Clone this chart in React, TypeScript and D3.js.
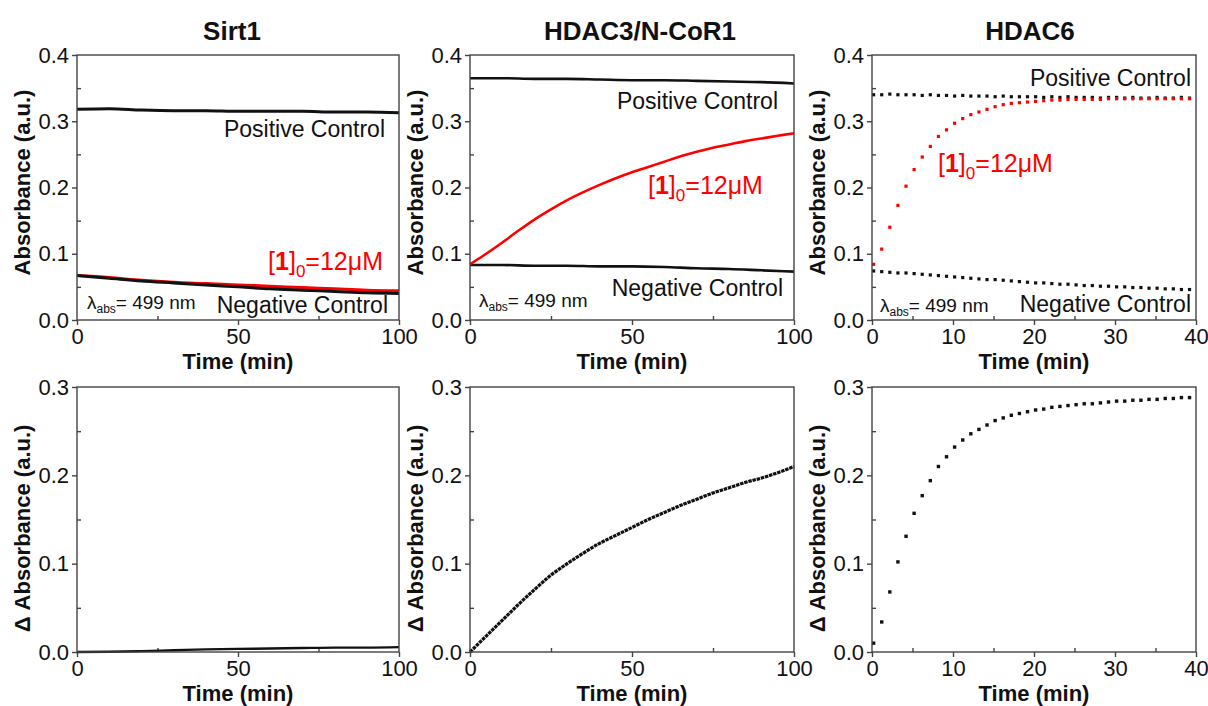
import React, { useEffect, useRef } from 'react';
import * as d3 from 'd3';

const FONT = '"Liberation Sans", Arial, sans-serif';
const RED = 'rgb(255, 0, 0)';
const INK = '#111';
const FRAME = '#444';

// ---- data ----
const minutes10 = [0, 10, 20, 30, 40, 50, 60, 70, 80, 90, 100];
const minutes5 = [0, 5, 10, 15, 20, 25, 30, 35, 40, 45, 50, 55, 60, 65, 70, 75, 80, 85, 90, 95, 100];

// Sirt1
const sirtPositive = [0.318, 0.319, 0.317, 0.316, 0.316, 0.315, 0.315, 0.315, 0.314, 0.314, 0.313];
const sirtNegative = [0.067, 0.063, 0.059, 0.056, 0.053, 0.050, 0.047, 0.045, 0.043, 0.041, 0.040];
const sirtTreated = [0.067, 0.064, 0.060, 0.057, 0.055, 0.053, 0.051, 0.049, 0.047, 0.045, 0.044];
const sirtDelta = [0.000, 0.0003, 0.001, 0.002, 0.003, 0.0035, 0.004, 0.0045, 0.005, 0.005, 0.0055];

// HDAC3/N-CoR1
const hdac3Positive = [0.365, 0.365, 0.364, 0.364, 0.363, 0.362, 0.362, 0.361, 0.360, 0.359, 0.357];
const hdac3Negative = [0.083, 0.083, 0.082, 0.082, 0.081, 0.081, 0.080, 0.078, 0.077, 0.075, 0.073];
const hdac3Treated = [0.084, 0.100, 0.117, 0.135, 0.152, 0.167, 0.181, 0.193, 0.204, 0.214, 0.223,
  0.231, 0.239, 0.247, 0.254, 0.260, 0.265, 0.270, 0.274, 0.278, 0.282];
const hdac3Delta = [0.000, 0.018, 0.036, 0.054, 0.071, 0.087, 0.100, 0.112, 0.123, 0.132, 0.141,
  0.150, 0.158, 0.166, 0.173, 0.180, 0.186, 0.192, 0.197, 0.203, 0.210];

// HDAC6 (one reading per minute)
const hdac6Time = [0.2, 1.2, 2.2, 3.2, 4.2, 5.2, 6.2, 7.2, 8.2, 9.2, 10.2, 11.2, 12.2, 13.2, 14.2, 15.2, 16.2, 17.2, 18.2, 19.2,
  20.2, 21.2, 22.2, 23.2, 24.2, 25.2, 26.2, 27.2, 28.2, 29.2, 30.2, 31.2, 32.2, 33.2, 34.2, 35.2, 36.2, 37.2, 38.2, 39.2];
const hdac6Positive = [0.340, 0.340, 0.341, 0.340, 0.340, 0.340, 0.339, 0.340, 0.339, 0.339, 0.338, 0.339, 0.338, 0.338, 0.338, 0.337, 0.338, 0.337, 0.337, 0.337,
  0.337, 0.336, 0.337, 0.336, 0.337, 0.336, 0.336, 0.336, 0.335, 0.336, 0.336, 0.335, 0.336, 0.335, 0.335, 0.336, 0.335, 0.335, 0.336, 0.335];
const hdac6Negative = [0.074, 0.073, 0.072, 0.071, 0.071, 0.070, 0.069, 0.068, 0.067, 0.066, 0.065, 0.064, 0.063, 0.062, 0.061, 0.061, 0.060, 0.059, 0.058, 0.057,
  0.056, 0.056, 0.055, 0.054, 0.054, 0.053, 0.052, 0.052, 0.051, 0.051, 0.050, 0.050, 0.049, 0.049, 0.048, 0.048, 0.047, 0.047, 0.046, 0.046];
const hdac6Treated = [0.084, 0.107, 0.140, 0.173, 0.202, 0.227, 0.246, 0.262, 0.277, 0.287, 0.297, 0.304, 0.310, 0.314, 0.318, 0.322, 0.325, 0.327, 0.328, 0.329,
  0.330, 0.331, 0.332, 0.332, 0.333, 0.333, 0.333, 0.333, 0.333, 0.334, 0.334, 0.334, 0.334, 0.334, 0.334, 0.334, 0.334, 0.334, 0.334, 0.334];
const hdac6Delta = [0.010, 0.034, 0.068, 0.102, 0.131, 0.157, 0.177, 0.194, 0.210, 0.221, 0.232, 0.240, 0.247, 0.252, 0.257, 0.262, 0.265, 0.268, 0.270, 0.272,
  0.274, 0.275, 0.277, 0.278, 0.279, 0.280, 0.281, 0.281, 0.282, 0.283, 0.284, 0.284, 0.285, 0.285, 0.286, 0.286, 0.287, 0.287, 0.288, 0.288];

const titles = ['Sirt1', 'HDAC3/N-CoR1', 'HDAC6'];

// ---- layout ----
const colLeft = [77, 470, 872];
const colWidth = [322, 324, 324];
const rowTop = [55, 387];
const rowHeight = [265, 265];
const titleShift = [-6, 8, -4];

type Series = { t: number[]; v: number[]; color: string; kind: 'line' | 'dots' | 'dense'; w: number };
type Note = { kind: 'text' | 'red' | 'lambda'; text?: string; x: number; y: number; anchor: string };

const topNotes: Note[][] = [
  [
    { kind: 'text', text: 'Positive Control', x: 308, y: 82, anchor: 'end' },
    { kind: 'red', x: 306, y: 215, anchor: 'end' },
    { kind: 'lambda', x: 10, y: 254, anchor: 'start' },
    { kind: 'text', text: 'Negative Control', x: 311, y: 258, anchor: 'end' },
  ],
  [
    { kind: 'text', text: 'Positive Control', x: 308, y: 54, anchor: 'end' },
    { kind: 'red', x: 178, y: 139, anchor: 'start' },
    { kind: 'lambda', x: 9, y: 252, anchor: 'start' },
    { kind: 'text', text: 'Negative Control', x: 313, y: 241, anchor: 'end' },
  ],
  [
    { kind: 'text', text: 'Positive Control', x: 319, y: 31, anchor: 'end' },
    { kind: 'red', x: 66, y: 117, anchor: 'start' },
    { kind: 'lambda', x: 8, y: 257, anchor: 'start' },
    { kind: 'text', text: 'Negative Control', x: 319, y: 257, anchor: 'end' },
  ],
];

const panels = [
  // top row
  {
    col: 0, row: 0, xMax: 100, yMax: 0.4, notes: topNotes[0], yTitle: 'Absorbance (a.u.)',
    series: [
      { t: minutes10, v: sirtPositive, color: INK, kind: 'line', w: 3 },
      { t: minutes10, v: sirtTreated, color: RED, kind: 'line', w: 3 },
      { t: minutes10, v: sirtNegative, color: INK, kind: 'line', w: 3 },
    ] as Series[],
  },
  {
    col: 1, row: 0, xMax: 100, yMax: 0.4, notes: topNotes[1], yTitle: 'Absorbance (a.u.)',
    series: [
      { t: minutes10, v: hdac3Positive, color: INK, kind: 'line', w: 2.6 },
      { t: minutes10, v: hdac3Negative, color: INK, kind: 'line', w: 2.6 },
      { t: minutes5, v: hdac3Treated, color: RED, kind: 'line', w: 2.6 },
    ] as Series[],
  },
  {
    col: 2, row: 0, xMax: 40, yMax: 0.4, notes: topNotes[2], yTitle: 'Absorbance (a.u.)',
    series: [
      { t: hdac6Time, v: hdac6Positive, color: INK, kind: 'dots', w: 3.2 },
      { t: hdac6Time, v: hdac6Negative, color: INK, kind: 'dots', w: 3.2 },
      { t: hdac6Time, v: hdac6Treated, color: RED, kind: 'dots', w: 3.2 },
    ] as Series[],
  },
  // bottom row
  {
    col: 0, row: 1, xMax: 100, yMax: 0.3, notes: [], yTitle: '\u0394 Absorbance (a.u.)',
    series: [{ t: minutes10, v: sirtDelta, color: INK, kind: 'line', w: 2.4 }] as Series[],
  },
  {
    col: 1, row: 1, xMax: 100, yMax: 0.3, notes: [], yTitle: '\u0394 Absorbance (a.u.)',
    series: [{ t: minutes5, v: hdac3Delta, color: INK, kind: 'dense', w: 3.2 }] as Series[],
  },
  {
    col: 2, row: 1, xMax: 40, yMax: 0.3, notes: [], yTitle: '\u0394 Absorbance (a.u.)',
    series: [{ t: hdac6Time, v: hdac6Delta, color: INK, kind: 'dots', w: 3.4 }] as Series[],
  },
];

function redLabel(g: any, n: Note) {
  const t = g.append('text').attr('x', n.x).attr('y', n.y).attr('text-anchor', n.anchor)
    .attr('fill', RED).attr('font-size', 25).attr('font-family', FONT);
  t.append('tspan').text('[');
  t.append('tspan').attr('font-weight', 'bold').text('1');
  t.append('tspan').text(']');
  t.append('tspan').attr('font-size', 17).attr('dy', 7).text('0');
  t.append('tspan').attr('dy', -7).text('=12\u03bcM');
}

function lambdaLabel(g: any, n: Note) {
  const t = g.append('text').attr('x', n.x).attr('y', n.y).attr('text-anchor', n.anchor)
    .attr('fill', INK).attr('font-size', 19).attr('font-family', FONT);
  t.append('tspan').text('\u03bb');
  t.append('tspan').attr('font-size', 12).attr('dy', 4).text('abs');
  t.append('tspan').attr('dy', -4).text('= 499 nm');
}

function drawPanel(svg: any, p: typeof panels[number]) {
  const left = colLeft[p.col];
  const top = rowTop[p.row];
  const width = colWidth[p.col];
  const height = rowHeight[p.row];

  const x = d3.scaleLinear().domain([0, p.xMax]).range([0, width]);
  const y = d3.scaleLinear().domain([0, p.yMax]).range([height, 0]);

  const g = svg.append('g').attr('transform', `translate(${left},${top})`);

  const xStep = p.xMax === 100 ? 50 : 10;
  const xMajor = d3.range(0, p.xMax + 0.001, xStep);
  const xMinor = d3.range(xStep / 2, p.xMax, xStep);
  const yMajor = d3.range(0, p.yMax + 0.0001, 0.1);
  const yMinor = d3.range(0.05, p.yMax, 0.1);

  const styleAxis = (a: any, labels: boolean) => {
    a.select('.domain').remove();
    a.selectAll('line').attr('stroke', FRAME).attr('stroke-width', 1.4);
    if (labels) a.selectAll('text').attr('font-size', 22).attr('font-family', FONT).attr('fill', INK);
  };

  // major ticks point outward, minor ticks inward
  g.append('g').attr('transform', `translate(0,${height})`)
    .call(d3.axisBottom(x).tickValues(xMajor).tickSize(5).tickPadding(3).tickFormat(d3.format('d')))
    .call((a: any) => styleAxis(a, true));
  g.append('g').attr('transform', `translate(0,${height})`)
    .call(d3.axisBottom(x).tickValues(xMinor).tickSize(-4).tickFormat(() => ''))
    .call((a: any) => styleAxis(a, false));
  g.append('g')
    .call(d3.axisLeft(y).tickValues(yMajor).tickSize(5).tickPadding(3).tickFormat(d3.format('.1f')))
    .call((a: any) => styleAxis(a, true));
  g.append('g')
    .call(d3.axisLeft(y).tickValues(yMinor).tickSize(-4).tickFormat(() => ''))
    .call((a: any) => styleAxis(a, false));

  // data
  p.series.forEach((s) => {
    const pts = s.t.map((t, i) => [t, s.v[i]] as [number, number]);
    if (s.kind === 'dots') {
      g.append('g').selectAll('rect').data(pts).enter().append('rect')
        .attr('x', (d: [number, number]) => x(d[0]) - s.w / 2)
        .attr('y', (d: [number, number]) => y(d[1]) - s.w / 2)
        .attr('width', s.w).attr('height', s.w).attr('fill', s.color);
    } else {
      const line = d3.line<[number, number]>().x((d) => x(d[0])).y((d) => y(d[1])).curve(d3.curveMonotoneX);
      const path = g.append('path').attr('d', line(pts)).attr('fill', 'none')
        .attr('stroke', s.color).attr('stroke-width', s.w);
      if (s.kind === 'dense') path.attr('stroke-dasharray', '3.5,0.8');
    }
  });

  // frame
  g.append('rect').attr('width', width).attr('height', height)
    .attr('fill', 'none').attr('stroke', FRAME).attr('stroke-width', 1.4);

  // notes
  p.notes.forEach((n) => {
    if (n.kind === 'red') redLabel(g, n);
    else if (n.kind === 'lambda') lambdaLabel(g, n);
    else g.append('text').attr('x', n.x).attr('y', n.y).attr('text-anchor', n.anchor)
      .attr('font-size', 23).attr('font-family', FONT).attr('fill', INK).text(n.text);
  });

  // axis titles
  g.append('text').attr('x', width / 2).attr('y', height + 49).attr('text-anchor', 'middle')
    .attr('font-size', 22).attr('font-weight', 'bold').attr('font-family', FONT).attr('fill', INK)
    .text('Time (min)');
  const yShift = p.row === 0 ? -5 : 9;
  g.append('text')
    .attr('transform', `translate(${-47},${height / 2 + yShift}) rotate(-90)`)
    .attr('text-anchor', 'middle')
    .attr('font-size', 22).attr('font-weight', 'bold').attr('font-family', FONT).attr('fill', INK)
    .text(p.yTitle);

  if (p.row === 0) {
    svg.append('text').attr('x', left + width / 2 + titleShift[p.col]).attr('y', 40)
      .attr('text-anchor', 'middle').attr('font-size', 26).attr('font-weight', 'bold')
      .attr('font-family', FONT).attr('fill', INK).text(titles[p.col]);
  }
}

export default function App() {
  const ref = useRef<SVGSVGElement>(null);

  useEffect(() => {
    const svg = d3.select(ref.current);
    svg.selectAll('*').remove();
    panels.forEach((p) => drawPanel(svg, p));
  }, []);

  return (
    <svg ref={ref} width={1208} height={706}
      style={{ position: 'absolute', left: 0, top: 0, background: '#fff' }} />
  );
}
